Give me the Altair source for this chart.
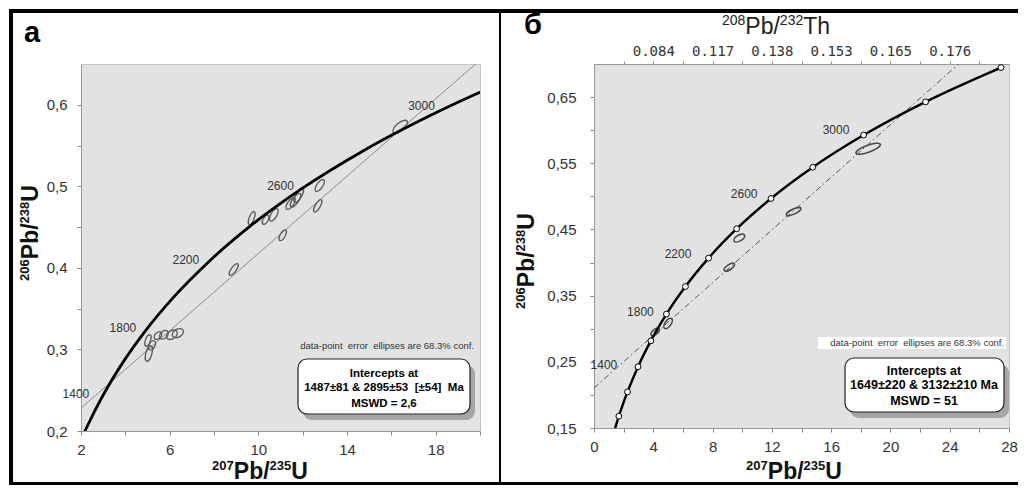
import altair as alt
import pandas as pd

# ---------------- data ----------------
# concordia points (age in Ma, 207Pb/235U, 206Pb/238U)
conc_age = [800, 900, 1000, 1100, 1200, 1400, 1600, 1800, 2000, 2200, 2400, 2600, 2800, 3000, 3200, 3400]
conc_x = [1.1987, 1.4263, 1.6774, 1.9545, 2.2603, 2.9701, 3.8344, 4.8869, 6.1685, 7.7292,
          9.6296, 11.9438, 14.7617, 18.1931, 22.3716, 27.4596]
conc_y = [0.1321, 0.1498, 0.1678, 0.1861, 0.2046, 0.2426, 0.2817, 0.3221, 0.3638, 0.4067,
          0.4511, 0.4968, 0.5440, 0.5926, 0.6428, 0.6946]
marker_ages = [1000, 1200, 1400, 1600, 1800, 2000, 2200, 2400, 2600, 2800, 3000, 3200, 3400]

label_ages = ["1400", "1800", "2200", "2600", "3000"]
a_label_x = [1.77, 3.89, 6.73, 11.0, 17.36]
a_label_y = [0.245, 0.326, 0.410, 0.501, 0.599]
b_label_x = [0.67, 3.13, 5.67, 10.13, 16.33]
b_label_y = [0.245, 0.326, 0.413, 0.504, 0.600]

a_disc_x = [2.0, 19.8]
a_disc_y = [0.228, 0.650]
b_disc_x = [0.0, 24.6]
b_disc_y = [0.2104, 0.700]

# error ellipses: centre, semi-axes (px), tilt (deg, counter-clockwise)
ea_x = [5.02, 5.06, 5.20, 5.47, 5.74, 6.10, 6.37, 8.89, 9.70, 10.33, 10.70, 11.10, 11.46, 11.68, 11.82, 12.68, 12.77, 16.40]
ea_y = [0.311, 0.295, 0.305, 0.317, 0.318, 0.318, 0.320, 0.398, 0.461, 0.459, 0.465, 0.440, 0.479, 0.483, 0.489, 0.476, 0.501, 0.573]
ea_major = [6, 8, 5, 4.5, 5, 6, 6, 7, 7, 5, 7, 6, 7, 8, 8, 7, 7, 9]
ea_minor = [2.5, 3, 3, 3, 3.5, 4, 4, 2.5, 2.5, 2.5, 3, 2.5, 3, 3, 3, 2.5, 3, 4]
ea_tilt = [70, 75, 60, 45, 45, 35, 30, 55, 70, 60, 60, 60, 55, 55, 60, 60, 55, 40]

eb_x = [4.13, 5.00, 9.13, 9.80, 13.47, 18.50]
eb_y = [0.295, 0.308, 0.393, 0.437, 0.477, 0.572]
eb_major = [5, 6, 6, 6, 8, 13]
eb_minor = [2.5, 3, 2.5, 3, 2.5, 3.5]
eb_tilt = [40, 55, 35, 30, 25, 20]

a_xticks = [2, 4, 6, 8, 10, 12, 14, 16, 18, 20]
a_xlabels = [2, 6, 10, 14, 18]
a_yticks = [0.2, 0.25, 0.3, 0.35, 0.4, 0.45, 0.5, 0.55, 0.6]
a_ylabels = [0.2, 0.3, 0.4, 0.5, 0.6]
b_xticks = [0, 2, 4, 6, 8, 10, 12, 14, 16, 18, 20, 22, 24, 26, 28]
b_xlabels = [0, 4, 8, 12, 16, 20, 24, 28]
b_yticks = [0.15, 0.2, 0.25, 0.3, 0.35, 0.4, 0.45, 0.5, 0.55, 0.6, 0.65]
b_ylabels = [0.15, 0.25, 0.35, 0.45, 0.55, 0.65]
th_ticks = [2, 4, 6, 8, 10, 12, 14, 16, 18, 20, 22, 24, 26]
th_pos = [4, 8, 12, 16, 20, 24]
th_labels = ["0.084", "0.117", "0.138", "0.153", "0.165", "0.176"]

# axis titles: (text, is_superscript)
x_title_parts = [("207", True), ("Pb/", False), ("235", True), ("U", False)]
y_title_parts = [("206", True), ("Pb/", False), ("238", True), ("U", False)]
th_title_parts = [("208", True), ("Pb/", False), ("232", True), ("Th", False)]

a_box_lines = ["Intercepts at", "1487±81 & 2895±53\u00a0 [±54]\u00a0 Ma", "MSWD = 2,6"]
b_box_lines = ["Intercepts at", "1649±220 & 3132±210 Ma", "MSWD = 51"]
note_text = "data-point\u00a0 error\u00a0 ellipses are 68.3% conf."

# ---------------- helpers ----------------
one = pd.DataFrame({"k": [0]})
conc = pd.DataFrame({"age": conc_age, "x": conc_x, "y": conc_y})
markers = conc[conc["age"].isin(marker_ages)]

K = 0.5523

# Arial / Liberation Sans advance widths (em)
W_BOLD = dict({d: 0.556 for d in "0123456789"}, P=0.667, b=0.611, U=0.722, T=0.611, h=0.611)
W_BOLD["/"] = 0.278
W_REG = dict({d: 0.556 for d in "0123456789"}, P=0.667, b=0.556, U=0.722, T=0.611, h=0.556)
W_REG["/"] = 0.278


def ellipse_path(r):
    return (f"M 1 0 C 1 {K*r:.4f} {K:.4f} {r:.4f} 0 {r:.4f} "
            f"C {-K:.4f} {r:.4f} -1 {K*r:.4f} -1 0 "
            f"C -1 {-K*r:.4f} {-K:.4f} {-r:.4f} 0 {-r:.4f} "
            f"C {K:.4f} {-r:.4f} 1 {-K*r:.4f} 1 0 Z")


def ell_df(xs, ys, maj, mino, tilt):
    rows = []
    for x, y, a, b, t in zip(xs, ys, maj, mino, tilt):
        rows.append(dict(x=x, y=y, path=ellipse_path(b / a), sz=(2 * a) ** 2, ang=(360 - t) % 360))
    return pd.DataFrame(rows)


def labexpr_int(vals):
    arr = ",".join(str(v) for v in vals)
    return f"indexof([{arr}], datum.value) >= 0 ? datum.label : ''"


def labexpr_comma(vals, fmt):
    arr = ",".join(str(round(v * 100)) for v in vals)
    return (f"indexof([{arr}], round(datum.value*100)) >= 0 ? "
            f"replace(format(datum.value, '{fmt}'), '.', ',') : ''")


def labexpr_map(pos, labs):
    p = ",".join(str(v) for v in pos)
    l = ",".join(f"'{s}'" for s in labs)
    return f"indexof([{p}], datum.value) >= 0 ? [{l}][indexof([{p}], datum.value)] : ''"


def bar(x0, x1, y0, y1):
    return alt.Chart(one).mark_rect(color="black").encode(
        x=alt.value(x0), x2=alt.value(x1), y=alt.value(y0), y2=alt.value(y1))


def txt(s, x, y, **kw):
    return alt.Chart(one).mark_text(text=s, **kw).encode(x=alt.value(x), y=alt.value(y))


def rich(parts, c, base, main, sup, weight, vertical=False, color="#111"):
    wt = W_BOLD if weight == "bold" else W_REG
    widths = [sum(wt[ch] for ch in s) * (sup if is_sup else main) for s, is_sup in parts]
    total = sum(widths)
    raise_ = 0.40 * main
    layers = []
    cum = 0.0
    for (s, is_sup), w in zip(parts, widths):
        size = sup if is_sup else main
        if vertical:
            layers.append(txt(s, base - (raise_ if is_sup else 0), c + total / 2 - cum, font="Liberation Sans",
                              fontSize=size, fontWeight=weight, color=color, align="left",
                              baseline="alphabetic", angle=270))
        else:
            layers.append(txt(s, c - total / 2 + cum, base - (raise_ if is_sup else 0), font="Liberation Sans",
                              fontSize=size, fontWeight=weight, color=color, align="left",
                              baseline="alphabetic"))
        cum += w
    return layers


def box(x0, x1, y0, y1, lines, cx, baselines, fs):
    shadow = alt.Chart(one).mark_rect(color="#a0a0a0", cornerRadius=9, opacity=0.9).encode(
        x=alt.value(x0 + 5), x2=alt.value(x1 + 5), y=alt.value(y0 + 6), y2=alt.value(y1 + 6))
    rect = alt.Chart(one).mark_rect(fill="white", stroke="#222", strokeWidth=1.2, cornerRadius=9).encode(
        x=alt.value(x0), x2=alt.value(x1), y=alt.value(y0), y2=alt.value(y1))
    texts = [txt(s, cx, b, font="Liberation Sans", fontSize=fs,
                 fontWeight="bold", color="black", align="center", baseline="alphabetic")
             for s, b in zip(lines, baselines)]
    return [shadow, rect] + texts


AXIS_COMMON = dict(labelFontSize=15, tickSize=4, labelFlush=False, labelOverlap=False, title=None)

# ---------------- panel а ----------------
sx_a = alt.Scale(domain=[2, 20], nice=False, zero=False)
sy_a = alt.Scale(domain=[0.2, 0.65], nice=False, zero=False)

a_conc = alt.Chart(conc).mark_line(color="black", strokeWidth=2.8, interpolate="monotone", clip=True).encode(
    x=alt.X("x:Q", scale=sx_a, axis=alt.Axis(values=a_xticks, labelExpr=labexpr_int(a_xlabels),
                                            labelPadding=7, **AXIS_COMMON)),
    y=alt.Y("y:Q", scale=sy_a, axis=alt.Axis(values=a_yticks, labelExpr=labexpr_comma(a_ylabels, ".1f"),
                                            labelPadding=10, **AXIS_COMMON)),
)
a_disc = alt.Chart(pd.DataFrame({"x": a_disc_x, "y": a_disc_y})).mark_line(
    color="#8c8c8c", strokeWidth=1, clip=True).encode(
    x=alt.X("x:Q", scale=sx_a, axis=None), y=alt.Y("y:Q", scale=sy_a, axis=None))
a_ell = alt.Chart(ell_df(ea_x, ea_y, ea_major, ea_minor, ea_tilt)).mark_point(
    filled=False, color="#5a5a5a", strokeWidth=1.3, opacity=1).encode(
    x=alt.X("x:Q", scale=sx_a, axis=None), y=alt.Y("y:Q", scale=sy_a, axis=None),
    shape=alt.Shape("path:N", scale=None, legend=None),
    size=alt.Size("sz:Q", scale=None, legend=None),
    angle=alt.Angle("ang:Q", scale=None))
a_lab = alt.Chart(pd.DataFrame({"t": label_ages, "x": a_label_x, "y": a_label_y})).mark_text(
    font="Liberation Sans", fontSize=12, color="#333").encode(
    x=alt.X("x:Q", scale=sx_a, axis=None), y=alt.Y("y:Q", scale=sy_a, axis=None), text="t:N")

frame = [bar(-72, 937, -55, -51), bar(-72, -68, -55, 421), bar(-72, 937, 418, 421), bar(418, 420, -55, 421)]

a_layers = frame + [a_disc, a_ell, a_conc, a_lab,
                    txt(note_text, 393, 285, font="Liberation Sans", fontSize=9.5,
                        color="#333", align="right", baseline="alphabetic")]
a_layers += box(217, 389, 295, 350, a_box_lines, 303, [313, 327, 343], 11.5)
a_layers += rich(x_title_parts, 179, 415, 23, 13, "bold")
a_layers += rich(y_title_parts, 169, -43, 23, 13, "bold", vertical=True)
a_layers += [txt("а", -57, -22, font="Liberation Sans", fontSize=29, fontWeight="bold",
                 color="black", align="left", baseline="alphabetic")]

panel_a = alt.layer(*a_layers).properties(width=399, height=367).resolve_axis(x="independent", y="independent")

# ---------------- panel б ----------------
sx_b = alt.Scale(domain=[0, 28], nice=False, zero=False)
sy_b = alt.Scale(domain=[0.15, 0.70], nice=False, zero=False)

b_conc = alt.Chart(conc).mark_line(color="black", strokeWidth=2.4, interpolate="monotone", clip=True).encode(
    x=alt.X("x:Q", scale=sx_b, axis=alt.Axis(values=b_xticks, labelExpr=labexpr_int(b_xlabels),
                                            labelPadding=7, **AXIS_COMMON)),
    y=alt.Y("y:Q", scale=sy_b, axis=alt.Axis(values=b_yticks, labelExpr=labexpr_comma(b_ylabels, ".2f"),
                                            labelPadding=14, **AXIS_COMMON)),
)
b_disc = alt.Chart(pd.DataFrame({"x": b_disc_x, "y": b_disc_y})).mark_line(
    color="#555", strokeWidth=1, strokeDash=[6, 3, 1.5, 3], clip=True).encode(
    x=alt.X("x:Q", scale=sx_b, axis=None), y=alt.Y("y:Q", scale=sy_b, axis=None))
b_ell = alt.Chart(ell_df(eb_x, eb_y, eb_major, eb_minor, eb_tilt)).mark_point(
    filled=False, color="#4a4a4a", strokeWidth=1.6, opacity=1).encode(
    x=alt.X("x:Q", scale=sx_b, axis=None), y=alt.Y("y:Q", scale=sy_b, axis=None),
    shape=alt.Shape("path:N", scale=None, legend=None),
    size=alt.Size("sz:Q", scale=None, legend=None),
    angle=alt.Angle("ang:Q", scale=None))
b_mark = alt.Chart(markers).mark_point(shape="circle", filled=True, fill="white", stroke="black",
                                       strokeWidth=1, size=34, opacity=1).encode(
    x=alt.X("x:Q", scale=sx_b, axis=alt.Axis(orient="top", values=th_ticks,
                                            labelExpr=labexpr_map(th_pos, th_labels),
                                            labelFont="DejaVu Sans Mono", labelFontSize=14,
                                            tickSize=3, labelPadding=3, labelFlush=False,
                                            labelOverlap=False, title=None)),
    y=alt.Y("y:Q", scale=sy_b, axis=None))
b_lab = alt.Chart(pd.DataFrame({"t": label_ages, "x": b_label_x, "y": b_label_y})).mark_text(
    font="Liberation Sans", fontSize=12, color="#333").encode(
    x=alt.X("x:Q", scale=sx_b, axis=None), y=alt.Y("y:Q", scale=sy_b, axis=None), text="t:N")

b_layers = [b_disc, b_ell, b_conc, b_mark, b_lab,
            alt.Chart(one).mark_rect(color="white").encode(
                x=alt.value(224), x2=alt.value(412), y=alt.value(273), y2=alt.value(285)),
            txt(note_text, 410, 282, font="Liberation Sans", fontSize=9.5,
                color="#333", align="right", baseline="alphabetic")]
b_layers += box(251, 410, 294, 348, b_box_lines, 330, [311, 325, 341], 12.5)
b_layers += rich(x_title_parts, 200, 415, 23, 13, "bold")
b_layers += rich(y_title_parts, 197, -60, 23, 13, "bold", vertical=True)
b_layers += rich(th_title_parts, 182, -30, 23, 14, "normal", color="#222")
b_layers += [txt("б", -70, -30, font="Liberation Sans", fontSize=29, fontWeight="bold",
                 color="black", align="left", baseline="alphabetic")]

panel_b = alt.layer(*b_layers).properties(width=415, height=364).resolve_axis(x="independent", y="independent")

chart = alt.hconcat(panel_a, panel_b, spacing=114, bounds="flush").properties(
    padding=0, background="white"
).configure_view(
    fill="#e2e2e2", stroke="#c4c4c4"
).configure_axis(
    labelFont="Liberation Sans", labelColor="#333",
    grid=False, domainColor="#9a9a9a", tickColor="#8a8a8a"
)

chart.save("out.html", embed_options={"renderer": "svg", "actions": False})
